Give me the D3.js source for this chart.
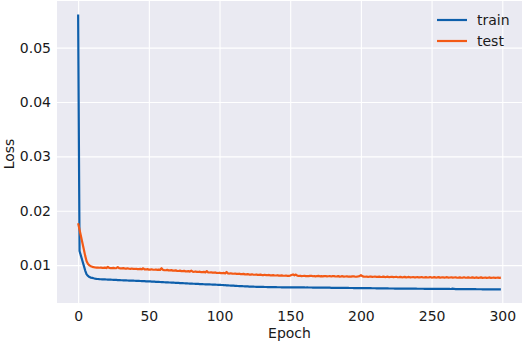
<!DOCTYPE html>
<html><head><meta charset="utf-8">
<script src="https://cdn.jsdelivr.net/npm/d3@7"></script>
<style>body{margin:0;background:#fff}svg{display:block}text{font-family:"DejaVu Sans",sans-serif;fill:#1a1a1a}</style>
</head><body><svg id="c" width="526" height="344"></svg>
<script>
const seriesNames = ["train", "test"];
const xTicks = [0, 50, 100, 150, 200, 250, 300];
const yTicks = [0.01, 0.02, 0.03, 0.04, 0.05];
const trainLoss = [
0.0561,0.0126,0.0117,0.0108,0.0099,0.0090,0.0083,0.0080,0.0078,0.0077,
0.00765,0.00758,0.00752,0.00748,0.00745,0.00742,0.00740,0.00738,0.00737,0.00736,
0.00735,0.00734,0.00733,0.00732,0.00731,0.00729,0.00728,0.00727,0.00725,0.00724,
0.00722,0.00721,0.00720,0.00719,0.00718,0.00717,0.00716,0.00715,0.00714,0.00713,
0.00712,0.00711,0.00710,0.00709,0.00708,0.00706,0.00705,0.00704,0.00702,0.00701,
0.00700,0.00699,0.00697,0.00696,0.00695,0.00693,0.00692,0.00691,0.00689,0.00688,
0.00687,0.00685,0.00684,0.00683,0.00681,0.00680,0.00679,0.00677,0.00676,0.00674,
0.00673,0.00672,0.00670,0.00669,0.00668,0.00666,0.00665,0.00664,0.00662,0.00661,
0.00660,0.00658,0.00657,0.00656,0.00654,0.00653,0.00652,0.00650,0.00649,0.00648,
0.00647,0.00646,0.00645,0.00644,0.00643,0.00642,0.00641,0.00640,0.00639,0.00638,
0.00637,0.00635,0.00634,0.00632,0.00630,0.00629,0.00627,0.00625,0.00624,0.00622,
0.00621,0.00619,0.00618,0.00616,0.00615,0.00613,0.00612,0.00611,0.00609,0.00608,
0.00607,0.00606,0.00605,0.00604,0.00603,0.00602,0.00601,0.00600,0.00600,0.00599,
0.00598,0.00598,0.00597,0.00597,0.00596,0.00596,0.00595,0.00595,0.00594,0.00594,
0.00594,0.00593,0.00593,0.00593,0.00592,0.00592,0.00592,0.00591,0.00591,0.00591,
0.00590,0.00591,0.00590,0.00590,0.00590,0.00589,0.00590,0.00589,0.00589,0.00589,
0.00589,0.00588,0.00589,0.00588,0.00588,0.00588,0.00587,0.00588,0.00587,0.00587,
0.00587,0.00586,0.00586,0.00586,0.00585,0.00585,0.00585,0.00584,0.00584,0.00583,
0.00583,0.00583,0.00582,0.00582,0.00582,0.00581,0.00581,0.00581,0.00580,0.00580,
0.00580,0.00580,0.00579,0.00579,0.00579,0.00578,0.00578,0.00578,0.00578,0.00577,
0.00577,0.00577,0.00576,0.00576,0.00576,0.00575,0.00575,0.00575,0.00574,0.00574,
0.00574,0.00573,0.00573,0.00573,0.00572,0.00572,0.00572,0.00571,0.00571,0.00571,
0.00570,0.00570,0.00570,0.00570,0.00569,0.00569,0.00569,0.00569,0.00568,0.00568,
0.00568,0.00568,0.00567,0.00567,0.00567,0.00567,0.00566,0.00566,0.00566,0.00566,
0.00565,0.00565,0.00565,0.00565,0.00565,0.00564,0.00564,0.00564,0.00564,0.00564,
0.00563,0.00563,0.00563,0.00563,0.00563,0.00563,0.00562,0.00562,0.00562,0.00562,
0.00562,0.00562,0.00561,0.00561,0.00563,0.00566,0.00561,0.00560,0.00560,0.00560,
0.00559,0.00559,0.00559,0.00559,0.00558,0.00558,0.00558,0.00558,0.00557,0.00557,
0.00557,0.00557,0.00556,0.00556,0.00556,0.00556,0.00555,0.00555,0.00555,0.00555,
0.00555,0.00554,0.00554,0.00554,0.00554,0.00554,0.00553,0.00553,0.00553,0.00553
];
const testLoss = [
0.0177,0.0165,0.0153,0.0141,0.0129,0.0117,0.0107,0.0102,0.00995,0.00980,
0.00968,0.00962,0.00958,0.00955,0.00953,0.00951,0.00956,0.00949,0.00948,0.00953,
0.00946,0.00968,0.00949,0.00945,0.00944,0.00950,0.00942,0.00946,0.00964,0.00943,
0.00941,0.00939,0.00945,0.00937,0.00936,0.00941,0.00933,0.00932,0.00937,0.00929,
0.00929,0.00933,0.00926,0.00925,0.00930,0.00923,0.00942,0.00921,0.00920,0.00925,
0.00918,0.00917,0.00923,0.00915,0.00915,0.00920,0.00912,0.00916,0.00910,0.00942,
0.00912,0.00908,0.00905,0.00912,0.00903,0.00902,0.00907,0.00899,0.00898,0.00903,
0.00894,0.00892,0.00898,0.00889,0.00888,0.00893,0.00885,0.00884,0.00889,0.00881,
0.00898,0.00879,0.00877,0.00883,0.00875,0.00874,0.00879,0.00871,0.00870,0.00875,
0.00867,0.00890,0.00865,0.00864,0.00869,0.00861,0.00860,0.00865,0.00856,0.00855,
0.00860,0.00852,0.00851,0.00856,0.00848,0.00874,0.00846,0.00845,0.00850,0.00842,
0.00841,0.00846,0.00838,0.00837,0.00842,0.00834,0.00833,0.00838,0.00830,0.00829,
0.00834,0.00826,0.00826,0.00831,0.00823,0.00823,0.00828,0.00820,0.00820,0.00825,
0.00817,0.00817,0.00822,0.00814,0.00814,0.00819,0.00811,0.00811,0.00816,0.00809,
0.00809,0.00814,0.00806,0.00806,0.00811,0.00804,0.00804,0.00809,0.00802,0.00802,
0.00807,0.00818,0.00828,0.00812,0.00826,0.00806,0.00800,0.00805,0.00798,0.00800,
0.00804,0.00797,0.00800,0.00796,0.00801,0.00803,0.00795,0.00798,0.00794,0.00799,
0.00801,0.00794,0.00797,0.00793,0.00798,0.00800,0.00792,0.00795,0.00799,0.00791,
0.00796,0.00798,0.00790,0.00793,0.00797,0.00789,0.00792,0.00796,0.00788,0.00791,
0.00795,0.00788,0.00791,0.00787,0.00792,0.00794,0.00786,0.00789,0.00793,0.00798,
0.00814,0.00797,0.00787,0.00786,0.00790,0.00784,0.00787,0.00791,0.00783,0.00786,
0.00790,0.00782,0.00785,0.00789,0.00781,0.00784,0.00788,0.00780,0.00783,0.00787,
0.00779,0.00782,0.00786,0.00778,0.00781,0.00785,0.00777,0.00780,0.00784,0.00776,
0.00779,0.00783,0.00775,0.00778,0.00782,0.00774,0.00777,0.00781,0.00773,0.00776,
0.00780,0.00773,0.00776,0.00781,0.00772,0.00775,0.00779,0.00772,0.00775,0.00780,
0.00771,0.00774,0.00778,0.00771,0.00774,0.00779,0.00770,0.00773,0.00777,0.00770,
0.00773,0.00778,0.00769,0.00772,0.00776,0.00769,0.00772,0.00777,0.00768,0.00771,
0.00775,0.00768,0.00771,0.00776,0.00767,0.00770,0.00774,0.00767,0.00770,0.00775,
0.00766,0.00769,0.00773,0.00766,0.00769,0.00774,0.00765,0.00768,0.00772,0.00765,
0.00768,0.00773,0.00765,0.00768,0.00772,0.00764,0.00767,0.00771,0.00766,0.00770
];
const colors = ["#0e5fab", "#f35a16"];

const svg = d3.select("#c");
const L = 57, R = 522, T = 1, B = 303;
const x = d3.scaleLinear().domain([-14.95, 313.95]).range([L, R]);
const y = d3.scaleLinear().domain([0.00303, 0.05858]).range([B, T]);

svg.append("rect").attr("x", L).attr("y", T).attr("width", R - L).attr("height", B - T).attr("fill", "#eaeaf2");

const gx = svg.append("g").attr("transform", `translate(0,${B})`)
  .call(d3.axisBottom(x).tickValues(xTicks).tickSize(-(B - T)).tickPadding(8).tickFormat(d3.format("d")));
const gy = svg.append("g").attr("transform", `translate(${L},0)`)
  .call(d3.axisLeft(y).tickValues(yTicks).tickSize(-(R - L)).tickPadding(6).tickFormat(d3.format(".2f")));
[gx, gy].forEach(g => {
  g.select(".domain").remove();
  g.selectAll(".tick line").attr("stroke", "#fff").attr("stroke-width", 1.1);
  g.selectAll(".tick text").attr("font-size", 14).attr("fill", "#1a1a1a").attr("font-family", "DejaVu Sans");
});

const line = d3.line().x((d, i) => x(i)).y(d => y(d));
[trainLoss, testLoss].forEach((s, k) => {
  svg.append("path").datum(s).attr("d", line).attr("fill", "none")
    .attr("stroke", colors[k]).attr("stroke-width", 2.2).attr("stroke-linejoin", "round");
});

svg.append("text").attr("x", (L + R) / 2).attr("y", 338).attr("text-anchor", "middle").attr("font-size", 14).text("Epoch");
svg.append("text").attr("transform", `translate(13.5,154) rotate(-90)`).attr("text-anchor", "middle").attr("font-size", 14).text("Loss");

const lg = svg.append("g");
seriesNames.forEach((n, k) => {
  const yy = 20 + k * 21;
  lg.append("line").attr("x1", 437).attr("x2", 467).attr("y1", yy).attr("y2", yy).attr("stroke", colors[k]).attr("stroke-width", 2.2);
  lg.append("text").attr("x", 477).attr("y", yy + 5).attr("font-size", 14).text(n);
});
</script></body></html>
